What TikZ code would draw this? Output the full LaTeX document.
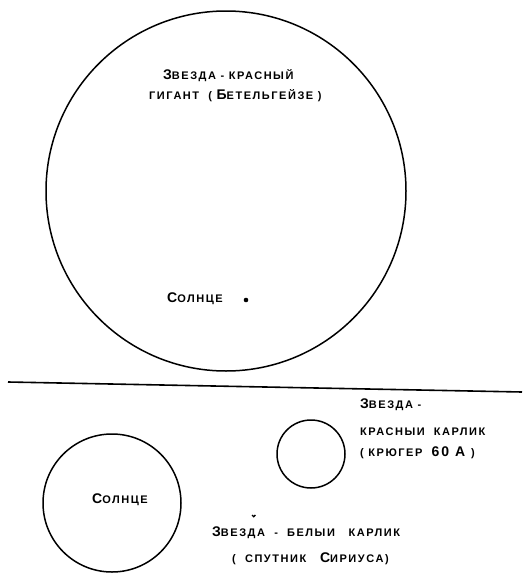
\documentclass[tikz,border=0pt]{standalone}
\usepackage{fontspec}
\setmainfont{Liberation Sans}[LetterSpace=14]
\newcommand{\smc}[1]{{\fontsize{11}{13}\selectfont #1}}

\tikzset{
  star/.style={line width=1.5pt},
  lbl/.style={anchor=west, inner sep=0pt, font=\fontsize{14}{16}\selectfont\bfseries}
}

\begin{document}
\begin{tikzpicture}[x=1pt, y=-1pt]
    \useasboundingbox (0,0) rectangle (528,576);
    % upper part: red giant with the sun at the same scale
    \draw[star] (226,191) circle[radius=180pt];
    \node[lbl] (giant1) at (163,76) {З\smc{ВЕЗДА - КРАСНЫЙ}};
    \node[lbl] (giant2) at (149,96) {\smc{ГИГАНТ \ ( }Б\smc{ЕТЕЛЬГЕЙЗЕ )}};
    \node[lbl] (sun1) at (167,299) {С\smc{ОЛНЦЕ}};
    \fill (246,300) circle[radius=2.3pt];
    % dividing line
    \draw[line width=1.6pt] (8,382) -- (522,392);
    % lower part
    \draw[star] (112,503) circle[radius=69pt];
    \node[lbl] (sun2) at (92,500) {С\smc{ОЛНЦЕ}};
    \draw[star] (311,454) circle[radius=34pt];
    \node[lbl] (dwarf1) at (360,405) {З\smc{ВЕЗДА -}};
    \node[lbl] (dwarf2) at (360,432) {\smc{КРАСНЫИ \ КАРЛИК}};
    \node[lbl] (dwarf3) at (360,453) {\smc{( КРЮГЕР \ }60 А \smc{)}};
    \draw[line width=1.3pt] (252,515) arc[start angle=180, end angle=360, radius=1.7pt];
    \node[lbl] (white1) at (212,533) {З\smc{ВЕЗДА \ - \ БЕЛЫИ \ \ КАРЛИК}};
    \node[lbl] (white2) at (232,559) {\smc{( \ СПУТНИК \ \ }С\smc{ИРИУСА)}};
\end{tikzpicture}
\end{document}
